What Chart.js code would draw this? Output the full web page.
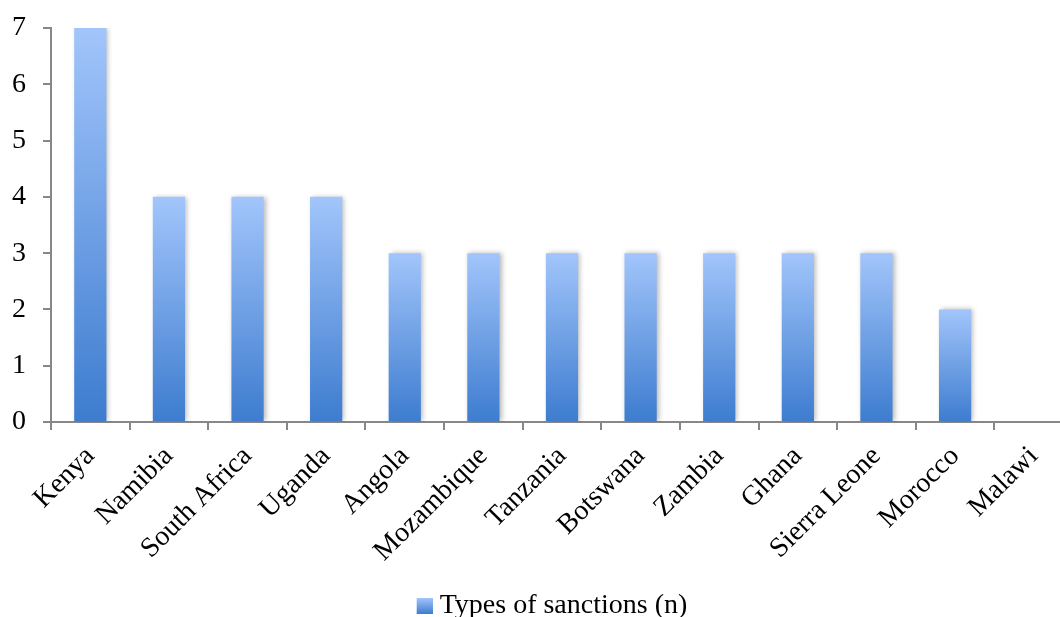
<!DOCTYPE html>
<html lang="en">
<head>
<meta charset="UTF-8" />
<title>Types of sanctions (n)</title>
<style>
  html, body { margin: 0; padding: 0; background: #fff; overflow: hidden; }
  #wrap { position: relative; width: 1090px; height: 617px; }
</style>
</head>
<body>
<div id="wrap"><canvas id="chart"></canvas></div>

<script src="https://cdn.jsdelivr.net/npm/chart.js"></script>
<script>
// ---- data ----
const countries = ["Kenya", "Namibia", "South Africa", "Uganda", "Angola", "Mozambique",
  "Tanzania", "Botswana", "Zambia", "Ghana", "Sierra Leone", "Morocco", "Malawi"];
const sanctions = [7, 4, 4, 4, 3, 3, 3, 3, 3, 3, 3, 2, 0];
const seriesName = "Types of sanctions (n)";
const yMin = 0;
const yMax = 7;

// ---- colours ----
const TOP_BLUE = "#A2C5FB";
const BOTTOM_BLUE = "#3D7CCF";
const AXIS_GREY = "#878787";

Chart.defaults.font.family = "'Liberation Serif', 'Times New Roman', serif";
Chart.defaults.font.size = 28;
Chart.defaults.color = "#000";

// per-bar vertical gradient (dark at the base, light at the top)
function barFill(ctx) {
  const chart = ctx.chart;
  if (!chart.chartArea || ctx.type !== "data") return "#7BA6E8";
  const y = chart.scales.y;
  const top = y.getPixelForValue(ctx.raw);
  const base = y.getPixelForValue(0);
  if (Math.abs(base - top) < 1) return BOTTOM_BLUE;
  const g = chart.ctx.createLinearGradient(0, base, 0, top);
  g.addColorStop(0, BOTTOM_BLUE);
  g.addColorStop(1, TOP_BLUE);
  return g;
}

// legend swatch: a 16px gradient square sitting at the right of a wider
// transparent image, so the square ends up close to the legend text
const SWATCH_W = 54;
const legendSwatch = document.createElement("canvas");
legendSwatch.width = SWATCH_W;
legendSwatch.height = 16;
(() => {
  const c = legendSwatch.getContext("2d");
  const g = c.createLinearGradient(0, 16, 0, 0);
  g.addColorStop(0, BOTTOM_BLUE);
  g.addColorStop(1, TOP_BLUE);
  c.fillStyle = g;
  c.fillRect(SWATCH_W - 16, 0, 16, 16);
})();

// soft drop shadow behind the bars
const barShadow = {
  id: "barShadow",
  beforeDatasetsDraw(chart) {
    const c = chart.ctx;
    c.save();
    c.shadowColor = "rgba(0,0,0,0.28)";
    c.shadowBlur = 5;
    c.shadowOffsetX = 2;
    c.shadowOffsetY = 0;
  },
  afterDatasetsDraw(chart) {
    chart.ctx.restore();
  }
};

new Chart(document.getElementById("chart"), {
  type: "bar",
  data: {
    labels: countries,
    datasets: [{
      label: seriesName,
      data: sanctions,
      backgroundColor: barFill,
      borderWidth: 0,
      barPercentage: 0.41,
      categoryPercentage: 1
    }]
  },
  options: {
    responsive: true,
    maintainAspectRatio: false,
    animation: false,
    layout: { padding: { left: 0, right: 17, top: 0, bottom: -13 } },
    plugins: {
      tooltip: { enabled: false },
      legend: {
        position: "bottom",
        labels: {
          boxWidth: 40,
          boxHeight: 16,
          pointStyleWidth: 40,
          padding: 2,
          usePointStyle: true,
          generateLabels: (chart) => [{
            text: seriesName,
            pointStyle: legendSwatch,
            fillStyle: BOTTOM_BLUE,
            strokeStyle: "transparent",
            lineWidth: 0,
            datasetIndex: 0
          }]
        }
      }
    },
    scales: {
      x: {
        grid: {
          drawOnChartArea: false,
          drawTicks: true,
          tickLength: 8,
          color: AXIS_GREY,
          lineWidth: 2
        },
        border: { color: AXIS_GREY, width: 2 },
        ticks: { minRotation: 45, maxRotation: 45, padding: 10, autoSkip: false },
        afterFit: (scale) => {
          scale.height = 168;
          scale.paddingLeft = 0;
          scale.paddingRight = 0;
        }
      },
      y: {
        min: yMin,
        max: yMax,
        grid: {
          drawOnChartArea: false,
          drawTicks: true,
          tickLength: 8,
          color: AXIS_GREY,
          lineWidth: 2
        },
        border: { color: AXIS_GREY, width: 2 },
        ticks: { stepSize: 1, padding: 17 },
        afterFit: (scale) => {
          scale.width = 51;
          scale.paddingTop = 28;
          scale.paddingBottom = 0;
        }
      }
    }
  },
  plugins: [barShadow]
});
</script>
</body>
</html>
